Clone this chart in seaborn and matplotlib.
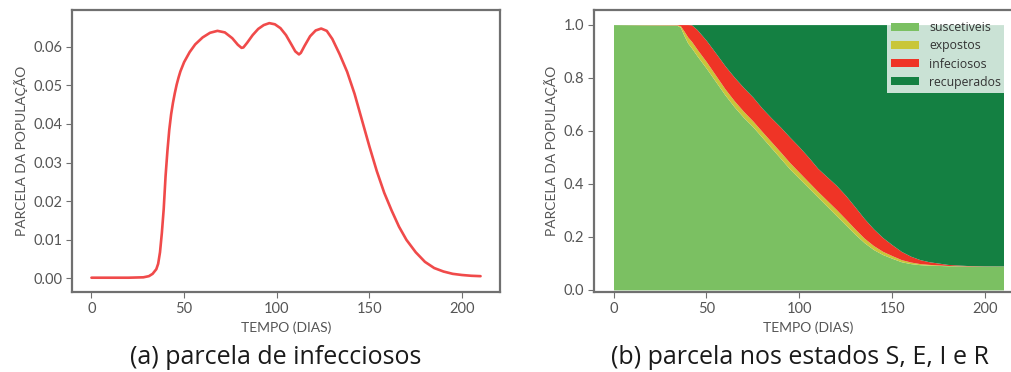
import numpy as np
import pandas as pd
import matplotlib
matplotlib.use("Agg")
import matplotlib.pyplot as plt
import seaborn as sns

# --- data ---
# (a) share of infectious people over time
dias_a = [0, 10, 20, 28, 31, 33, 35, 36, 37, 38, 39, 40, 41, 42, 43, 44, 45, 46,
          47, 48, 50, 53, 56, 60, 64, 68, 72, 76, 79, 81, 82, 84, 87, 90, 93, 96,
          99, 102, 105, 108, 110, 112, 113, 115, 118, 121, 124, 127, 130, 134,
          138, 142, 146, 150, 154, 158, 162, 166, 170, 175, 180, 185, 190, 195,
          200, 205, 210]
infecciosos_a = [0.0002, 0.0002, 0.0002, 0.0003, 0.0006, 0.0012, 0.0024, 0.0038,
                 0.0068, 0.0118, 0.0180, 0.0265, 0.0330, 0.0385, 0.0425, 0.0455,
                 0.0480, 0.0502, 0.0520, 0.0536, 0.0560, 0.0586, 0.0606, 0.0624,
                 0.0636, 0.0641, 0.0637, 0.0622, 0.0605, 0.0597, 0.0598, 0.0610,
                 0.0630, 0.0646, 0.0656, 0.0661, 0.0658, 0.0648, 0.0630, 0.0605,
                 0.0588, 0.0580, 0.0584, 0.0602, 0.0627, 0.0642, 0.0647, 0.0641,
                 0.0620, 0.0580, 0.0535, 0.0478, 0.0410, 0.0342, 0.0278, 0.0222,
                 0.0176, 0.0134, 0.0100, 0.0068, 0.0043, 0.0027, 0.0018, 0.0012,
                 0.0009, 0.0007, 0.0006]

# (b) shares in states S, E, I and R
dias_b = [0, 34, 36, 38, 40, 42, 45, 50, 55, 60, 65, 70, 75, 80, 85, 90, 95, 100,
          105, 110, 115, 120, 125, 130, 135, 140, 145, 150, 155, 160, 165, 170,
          180, 190, 200, 210]
suscetiveis = [1.0, 0.998, 0.99, 0.958, 0.93, 0.912, 0.882, 0.835, 0.785, 0.735,
               0.69, 0.65, 0.615, 0.575, 0.535, 0.495, 0.455, 0.42, 0.385, 0.35,
               0.315, 0.28, 0.245, 0.21, 0.178, 0.152, 0.133, 0.119, 0.106, 0.099,
               0.095, 0.093, 0.091, 0.09, 0.09, 0.09]
expostos = [0.0, 0.001, 0.006, 0.017, 0.023, 0.025, 0.025, 0.025, 0.024, 0.023,
            0.023, 0.023, 0.022, 0.022, 0.023, 0.024, 0.024, 0.023, 0.022, 0.021,
            0.022, 0.023, 0.022, 0.02, 0.017, 0.015, 0.012, 0.01, 0.008, 0.006,
            0.004, 0.003, 0.001, 0.0005, 0.0, 0.0]
infecciosos_b = [0.0, 0.001, 0.004, 0.025, 0.047, 0.062, 0.074, 0.08, 0.084, 0.087,
                 0.089, 0.09, 0.09, 0.088, 0.09, 0.094, 0.096, 0.096, 0.093,
                 0.087, 0.089, 0.091, 0.089, 0.083, 0.074, 0.063, 0.052, 0.041,
                 0.031, 0.022, 0.015, 0.01, 0.004, 0.0015, 0.0008, 0.0005]
# recovered is whatever is left of the population
recuperados = [1.0 - s - e - i for s, e, i in zip(suscetiveis, expostos, infecciosos_b)]

rotulos = ['suscetiveis', 'expostos', 'infeciosos', 'recuperados']
cores = ['#7bc062', '#c9c63a', '#ef3426', '#148042']

# --- style ---
sns.set_style("ticks")
plt.rcParams['font.family'] = ['Lato', 'DejaVu Sans']
cinza = '#555555'
plt.rcParams.update({
    'axes.edgecolor': '#707070',
    'axes.linewidth': 1.6,
    'xtick.color': '#707070',
    'ytick.color': '#707070',
    'xtick.labelcolor': cinza,
    'ytick.labelcolor': cinza,
    'xtick.labelsize': 10.5,
    'ytick.labelsize': 10.5,
    'xtick.major.size': 4,
    'ytick.major.size': 4,
    'axes.labelcolor': cinza,
    'axes.labelsize': 10,
})

fig = plt.figure(figsize=(10.12, 3.72), dpi=100)
W, H = 1012, 372
ax1 = fig.add_axes([72 / W, (H - 292) / H, 428 / W, 282 / H])
ax2 = fig.add_axes([594 / W, (H - 292) / H, 429 / W, 282 / H])

# --- (a) ---
df_a = pd.DataFrame({'dia': dias_a, 'parcela': infecciosos_a})
sns.lineplot(data=df_a, x='dia', y='parcela', ax=ax1, color='#f04a4a', linewidth=1.9)
ax1.set_xlim(-10.5, 220.5)
ax1.set_ylim(-0.0035, 0.0695)
ax1.set_xticks([0, 50, 100, 150, 200])
ax1.set_yticks([0.0, 0.01, 0.02, 0.03, 0.04, 0.05, 0.06])
ax1.yaxis.set_major_formatter(matplotlib.ticker.FormatStrFormatter('%.2f'))
ax1.set_xlabel('TEMPO (DIAS)')
ax1.set_ylabel('PARCELA DA POPULAÇÃO')

# --- (b) ---
ax2.stackplot(dias_b, suscetiveis, expostos, infecciosos_b, recuperados,
              colors=cores, labels=rotulos, linewidth=0)
ax2.set_xlim(-10.5, 220.5)
ax2.set_ylim(-0.008, 1.055)
ax2.set_xticks([0, 50, 100, 150, 200])
ax2.set_yticks([0.0, 0.2, 0.4, 0.6, 0.8, 1.0])
ax2.yaxis.set_major_formatter(matplotlib.ticker.FormatStrFormatter('%.1f'))
ax2.set_xlabel('TEMPO (DIAS)')
ax2.set_ylabel('PARCELA DA POPULAÇÃO')
leg = ax2.legend(loc='upper left', bbox_to_anchor=(887 / W, 1 - 17 / H),
                 bbox_transform=fig.transFigure, borderaxespad=0,
                 prop={'family': 'Open Sans', 'size': 8.8}, frameon=True,
                 fancybox=False, labelspacing=0.42, handlelength=2.3,
                 handleheight=0.6, borderpad=0.35)
leg.get_frame().set_facecolor('white')
leg.get_frame().set_alpha(0.78)
leg.get_frame().set_linewidth(0)
for txt in leg.get_texts():
    txt.set_color('#333333')

for ax in (ax1, ax2):
    ax.tick_params(axis='both', pad=3)

fig.text(276 / W, 1 - 357 / H, '(a) parcela de infecciosos', ha='center',
         va='center', fontsize=18, color='#1a1a1a', family='Open Sans')
fig.text(800 / W, 1 - 357 / H, '(b) parcela nos estados S, E, I e R', ha='center',
         va='center', fontsize=18, color='#1a1a1a', family='Open Sans')

fig.savefig('out.png', dpi=100)
